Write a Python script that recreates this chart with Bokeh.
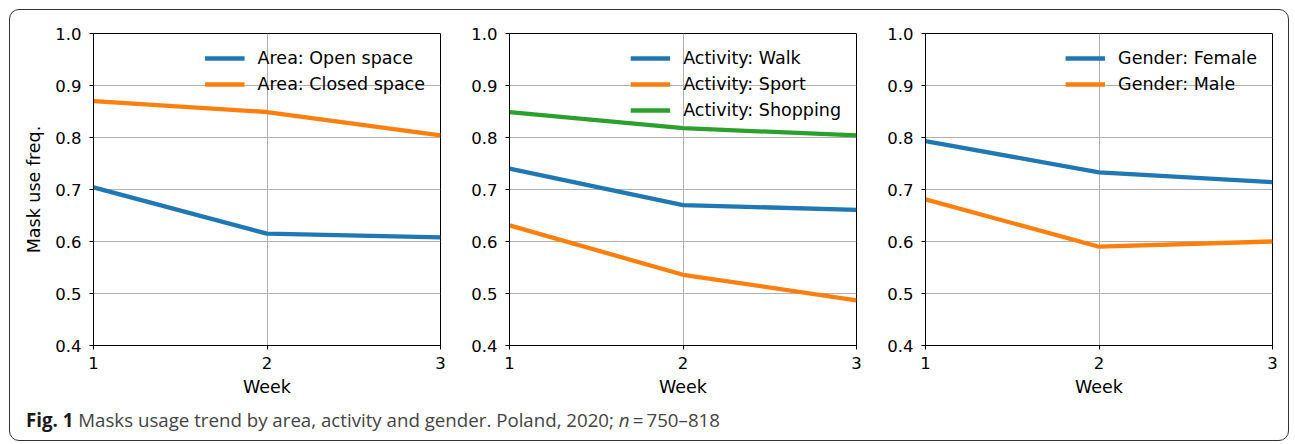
from bokeh.plotting import figure
from bokeh.models import Range1d, FixedTicker, Legend, LegendItem, Div, NumeralTickFormatter
from bokeh.layouts import row, column
from bokeh.embed import file_html
from bokeh.resources import INLINE

# ---- data ----
weeks = [1, 2, 3]
area_open = [0.704, 0.615, 0.608]
area_closed = [0.870, 0.849, 0.804]
act_walk = [0.740, 0.670, 0.661]
act_sport = [0.631, 0.536, 0.487]
act_shopping = [0.849, 0.818, 0.804]
gender_female = [0.793, 0.733, 0.714]
gender_male = [0.681, 0.590, 0.600]
y_ticks = [0.4, 0.5, 0.6, 0.7, 0.8, 0.9, 1.0]
x_ticks = [1, 2, 3]

BLUE, ORANGE, GREEN = "#1f77b4", "#ff7f0e", "#2ca02c"
FONT = "DejaVu Sans"


def make_panel(series, left, right, ylabel=None):
    p = figure(frame_width=347, frame_height=312,
               x_range=Range1d(1, 3), y_range=Range1d(0.4, 1.0),
               output_backend="svg", toolbar_location=None,
               min_border_left=left, min_border_right=right,
               min_border_top=23, min_border_bottom=59,
               background_fill_color="white", border_fill_color=None)
    p.outline_line_color = "black"
    p.outline_line_width = 1
    p.outline_line_alpha = 1
    p.xaxis.ticker = FixedTicker(ticks=x_ticks)
    p.yaxis.ticker = FixedTicker(ticks=y_ticks)
    p.yaxis.formatter = NumeralTickFormatter(format="0.0")
    for ax in (p.xaxis[0], p.yaxis[0]):
        ax.major_tick_in = 0
        ax.major_tick_out = 4
        ax.minor_tick_line_color = None
        ax.axis_line_color = "black"
        ax.major_tick_line_color = "black"
        ax.major_label_text_font = FONT
        ax.major_label_text_font_size = "16.5px"
        ax.major_label_text_color = "black"
        ax.axis_label_text_font = FONT
        ax.axis_label_text_font_size = "17.5px"
        ax.axis_label_text_font_style = "normal"
        ax.axis_label_text_color = "black"
    p.xaxis.major_label_standoff = 7
    p.yaxis.major_label_standoff = 8
    p.xaxis.axis_label = "Week"
    p.xaxis.axis_label_standoff = 5
    if ylabel:
        p.yaxis.axis_label = ylabel
        p.yaxis.axis_label_standoff = 8
    p.xgrid.ticker = FixedTicker(ticks=x_ticks)
    p.ygrid.ticker = FixedTicker(ticks=y_ticks)
    for g in (p.xgrid[0], p.ygrid[0]):
        g.grid_line_color = "#b0b0b0"
        g.grid_line_width = 1
    items = []
    for label, vals, col in series:
        r = p.line(weeks, vals, line_color=col, line_width=4.3)
        items.append(LegendItem(label=label, renderers=[r]))
    lg = Legend(items=items, location="top_right",
                border_line_alpha=0, background_fill_alpha=0,
                glyph_width=40, glyph_height=16, label_height=16,
                spacing=6, label_standoff=13, padding=4, margin=11,
                label_text_font=FONT, label_text_font_size="17.5px",
                label_text_color="black")
    p.add_layout(lg)
    return p


p1 = make_panel([("Area: Open space", area_open, BLUE),
                 ("Area: Closed space", area_closed, ORANGE)],
                left=83, right=10, ylabel="Mask use freq.")
p2 = make_panel([("Activity: Walk", act_walk, BLUE),
                 ("Activity: Sport", act_sport, ORANGE),
                 ("Activity: Shopping", act_shopping, GREEN)],
                left=59, right=10)
p3 = make_panel([("Gender: Female", gender_female, BLUE),
                 ("Gender: Male", gender_male, ORANGE)],
                left=59, right=12)

caption = Div(
    text='<span style="font-weight:bold;color:#1a1a1a">Fig. 1</span> '
         'Masks usage trend by area, activity and gender. Poland, 2020; '
         '<i>n</i>&#8201;=&#8201;750&ndash;818',
    width=1270, height=32, margin=(0, 0, 0, 0),
    styles={"font-family": "Open Sans", "font-size": "18.7px", "color": "#444444",
            "padding-left": "16px", "line-height": "32px", "white-space": "nowrap"})

layout = column(row(p1, p2, p3), caption,
                styles={"border": "1.5px solid #333333", "border-radius": "10px",
                        "padding-right": "4px", "padding-bottom": "4px",
                        "margin-left": "9px", "margin-top": "9px"})

html = file_html(layout, INLINE, title="Masks usage trend")
open("out.html", "w").write(html)
